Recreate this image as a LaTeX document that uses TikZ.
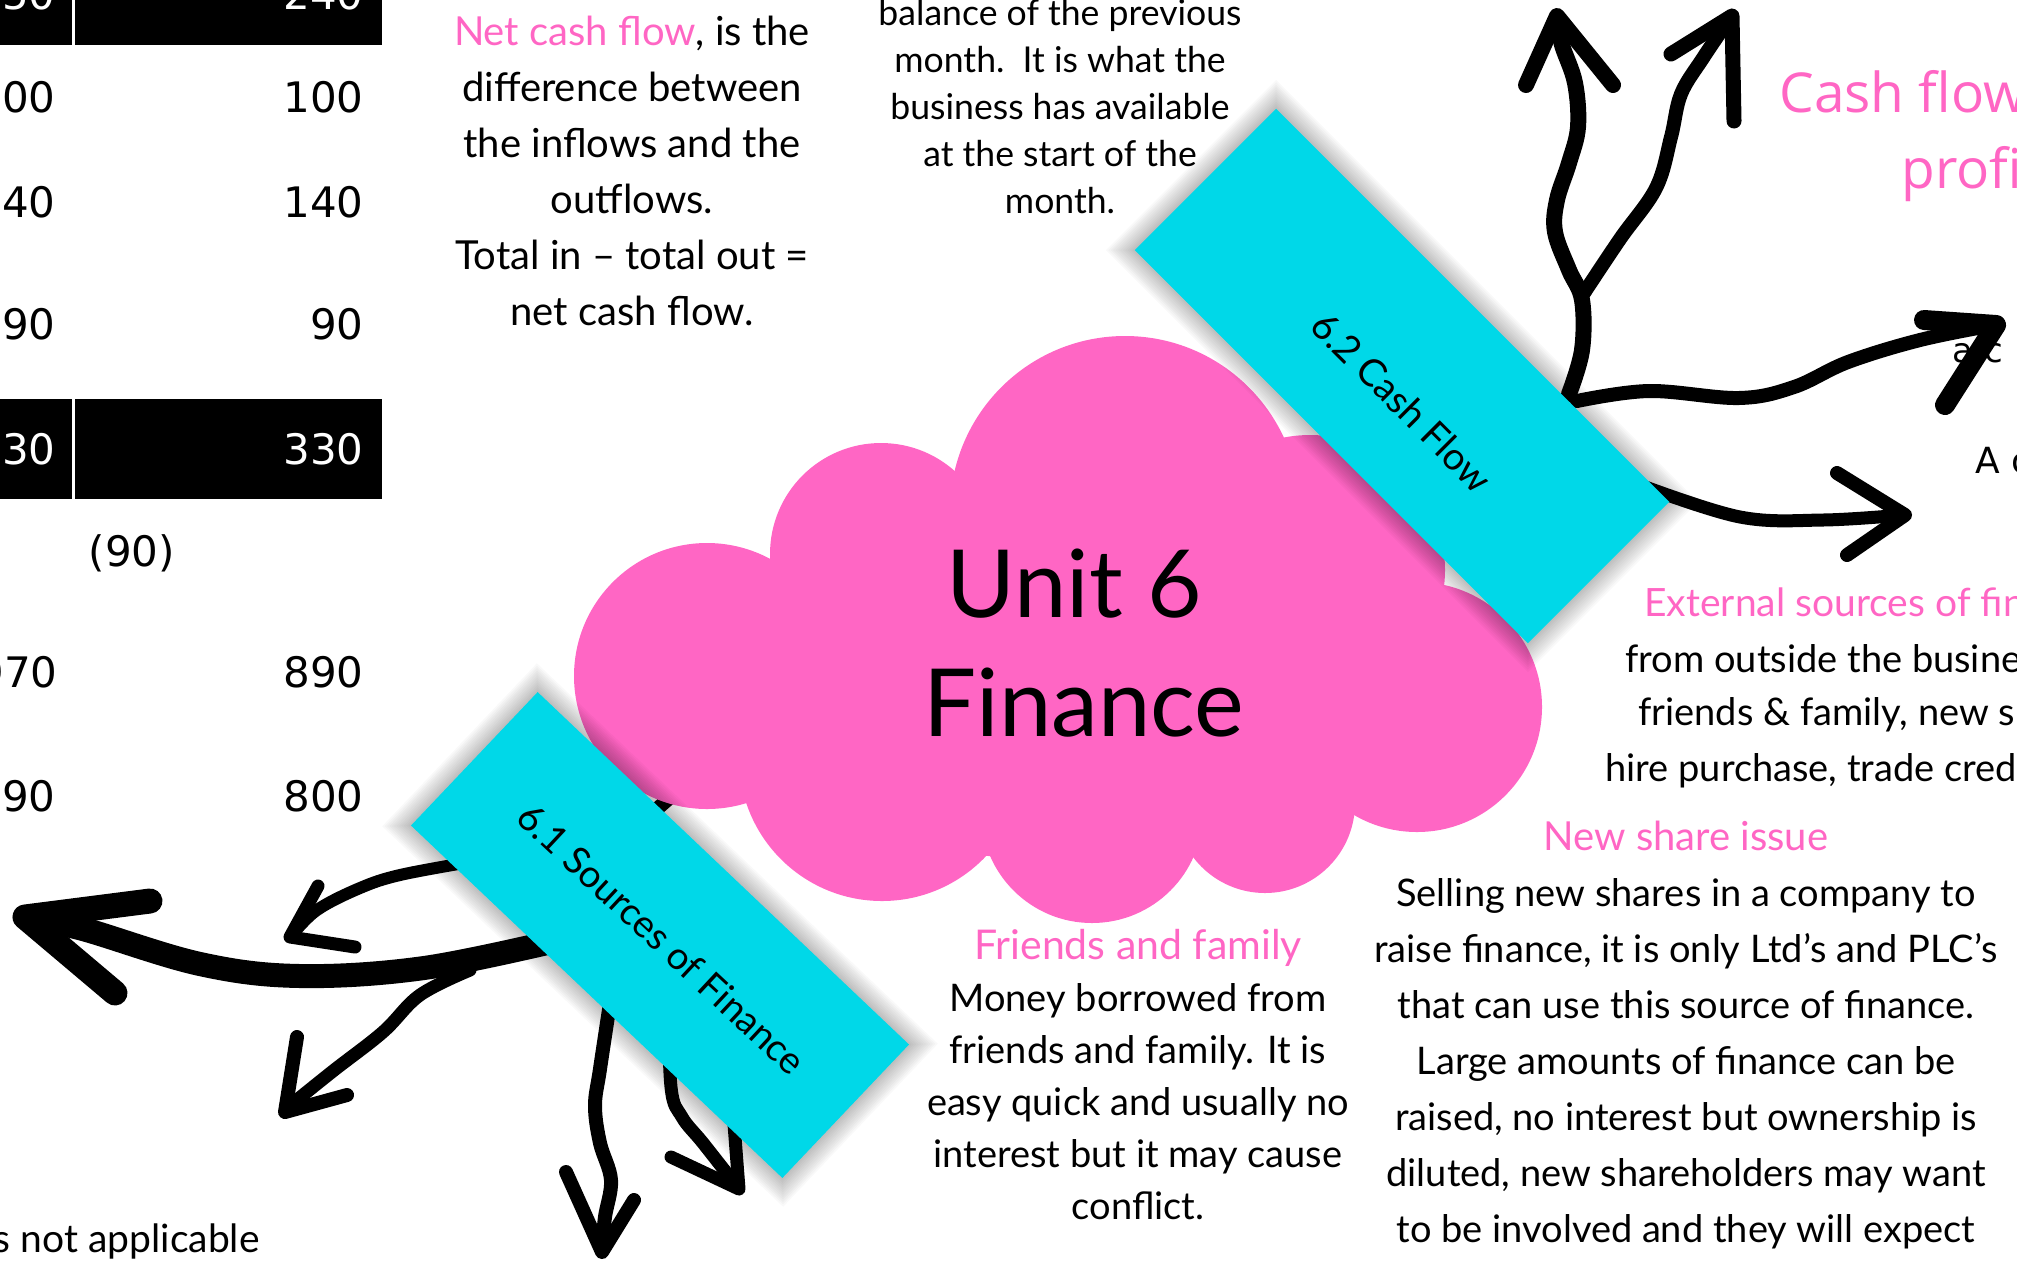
\documentclass[tikz,border=0pt]{standalone}
\usepackage{fontspec}
\setmainfont{Lato}
\newfontfamily\numfont{DejaVu Sans}
\newfontfamily\headfont{Open Sans}
\definecolor{cloudpink}{HTML}{FF66C4}
\definecolor{tabcyan}{HTML}{00D8E8}
\begin{document}
\begin{tikzpicture}[x=0.5pt,y=-0.5pt,
  ink/.style={draw=black, line cap=round, line join=round, line width=#1},
  ink/.default=7pt,
  body/.style={align=center, inner sep=0pt, font=\fontsize{#1}{28pt}\selectfont},
  body/.default=18pt,
  num/.style={anchor=base east, inner sep=0pt, font=\numfont\fontsize{21}{25}\selectfont},
  tabbox/.style={fill=tabcyan, inner sep=0pt},
  tablabel/.style={inner sep=0pt, font=\fontsize{#1}{20}\selectfont},
]
\useasboundingbox (0,0) rectangle (2017,1265);
\clip (0,0) rectangle (2017,1265);

% ---------- cash flow table (left edge) ----------
\fill[black] (0,0) rectangle (382,45);
\fill[black] (0,399) rectangle (382,499);
\fill[white] (72,0) rectangle (75,45);
\fill[white] (72,399) rectangle (75,499);
\node[num, text=white] (r1b) at (364,9) {240};
\node[num, text=white] (r1a) at (56,9) {250};
\node[num] (r2b) at (364,112) {100};
\node[num] (r2a) at (56,112) {100};
\node[num] (r3b) at (364,217) {140};
\node[num] (r3a) at (56,217) {140};
\node[num] (r4b) at (364,339) {90};
\node[num] (r4a) at (56,339) {90};
\node[num, text=white] (r5b) at (364,464) {330};
\node[num, text=white] (r5a) at (56,464) {330};
\node[inner sep=0pt, font=\numfont\fontsize{21}{25}\selectfont] (net) at (132,553) {(90)};
\node[num] (r7b) at (364,687) {890};
\node[num] (r7a) at (58,687) {970};
\node[num] (r8b) at (364,811) {800};
\node[num] (r8a) at (56,811) {890};
\node[anchor=base east, inner sep=0pt, font=\fontsize{19.5}{22}\selectfont] (napp) at (260,1252) {is not applicable};

% ---------- right edge headings ----------
\node[anchor=base west, inner sep=0pt, text=cloudpink, font=\headfont\fontsize{27.5}{30}\selectfont] (cfa) at (1779,112) {Cash flow};
\node[anchor=base west, inner sep=0pt, text=cloudpink, font=\headfont\fontsize{27.5}{30}\selectfont] (cfb) at (1901,188) {profit};
\node[anchor=base west, inner sep=0pt, font=\numfont\fontsize{17}{20}\selectfont] (ac1) at (1952,362) {a c};
\node[anchor=base west, inner sep=0pt, font=\numfont\fontsize{18}{20}\selectfont] (ac2) at (1975,473) {A c};

% ---------- hand drawn arrows of 6.2 ----------
\draw[ink=8pt] plot[smooth, tension=0.6] coordinates {(1569,394) (1582,350) (1582,300) (1569,270) (1555,232) (1557,200) (1569,163) (1578,127) (1575,83) (1562,45) (1557,20)};
\draw[ink=8pt] (1526,85) -- (1557,16) -- (1613,85);
\draw[ink=7pt] plot[smooth, tension=0.6] coordinates {(1584,293) (1620,239) (1656,188) (1671,137) (1681,94) (1703,58) (1730,18)};
\draw[ink=7.5pt] (1671,54) -- (1732,16) -- (1734,121);
\draw[ink=7pt] plot[smooth, tension=0.6] coordinates {(1577,401) (1649,391) (1739,398) (1794,387) (1848,362) (1920,340) (1994,325)};
\draw[ink=10pt] (1924,320) -- (1996,325) -- (1945,405);
\draw[ink=6.5pt] plot[smooth, tension=0.6] coordinates {(1640,485) (1740,517) (1823,520) (1903,515)};
\draw[ink=7pt] (1837,473) -- (1905,515) -- (1847,555);

% ---------- hand drawn arrows of 6.1 ----------
\draw[ink=12pt] plot[smooth, tension=0.6] coordinates {(560,940) (424,968) (300,976) (200,964) (83,929) (30,918)};
\draw[ink=12.5pt] (150,901) -- (25,917) -- (115,993);
\draw[ink=6pt] plot[smooth, tension=0.6] coordinates {(470,862) (400,875) (360,888) (317,910) (292,935)};
\draw[ink=6.5pt] (318,886) -- (290,937) -- (355,947);
\draw[ink=6.5pt] plot[smooth, tension=0.6] coordinates {(470,970) (420,995) (383,1032) (333,1071) (287,1108)};
\draw[ink=7pt] (297,1037) -- (285,1112) -- (347,1095);
\draw[ink=7pt] plot[smooth, tension=0.6] coordinates {(612,990) (600,1069) (595,1106) (600,1143) (611,1180) (605,1217) (602,1248)};
\draw[ink=7pt] (566,1172) -- (602,1252) -- (634,1200);
\draw[ink=6.5pt] plot[smooth, tension=0.6] coordinates {(668,990) (671,1087) (682,1117) (703,1143) (736,1185)};
\draw[ink=6.5pt] (671,1157) -- (739,1189) -- (734,1124);
\draw[ink=7pt] (610,850) -- (690,780);

% ---------- central cloud ----------
\begin{scope}[fill=cloudpink]
  \fill (707,676) circle[radius=133];
  \fill (881,554) circle[radius=111];
  \fill (1125,511) circle[radius=175];
  \fill (1310,570) circle[radius=135];
  \fill (1417,707) circle[radius=125];
  \fill (1265,803) circle[radius=90];
  \fill (1092,812) circle[radius=111];
  \fill (882,758) circle[radius=143];
  \fill (1060,690) ellipse[x radius=330, y radius=170];
\end{scope}
\node[inner sep=0pt, anchor=base, font=\fontsize{47}{50}\selectfont] (unit) at (1074,617) {Unit 6};
\node[inner sep=0pt, anchor=base, font=\fontsize{47}{50}\selectfont] (fin) at (1084,736) {Finance};

% ---------- topic tabs with soft shadows ----------
\begin{scope}[shift={(1402,376)}, rotate=-45]
  \foreach \k in {1,...,12}
    \fill[black, opacity=0.022] (-278-\k*1.7,-100-\k*1.7) rectangle (278+\k*1.7,100+\k*1.7);
\end{scope}
\node[tabbox, rotate=-45, minimum width=278pt, minimum height=100pt] (cashbox) at (1402,376) {};
\node[tablabel=19pt, rotate=-45] (cashlabel) at (1402,402) {6.2 Cash Flow};

\begin{scope}[shift={(660,935)}, rotate=-43.5]
  \foreach \k in {1,...,12}
    \fill[black, opacity=0.022] (-256-\k*1.7,-92-\k*1.7) rectangle (256+\k*1.7,92+\k*1.7);
\end{scope}
\node[tabbox, rotate=-43.5, minimum width=256pt, minimum height=92pt] (srcbox) at (660,935) {};
\node[tablabel=19pt, rotate=-43] (srclabel) at (662,939) {6.1 Sources of Finance};

% ---------- explanation texts ----------
\node[body, font=\fontsize{20}{28}\selectfont] (netcf) at (632,171) {{\color{cloudpink}Net cash flow}, is the\\difference between\\the inflows and the\\outflows.\\Total in -- total out =\\net cash flow.};
\node[body, font=\fontsize{17.8}{23.5}\selectfont] (openbal) at (1060,107) {balance of the previous\\month.\ \ It is what the\\business has available\\at the start of the\\month.};
\node[body, font=\fontsize{19}{26}\selectfont] (friends) at (1138,1075) {{\color{cloudpink}\fontsize{20.5}{26}\selectfont Friends and family}\\Money borrowed from\\friends and family. It is\\easy quick and usually no\\interest but it may cause\\conflict.};
\node[body, font=\fontsize{19}{28}\selectfont] (shares) at (1686,1035) {{\color{cloudpink}\fontsize{20}{28}\selectfont New share issue}\\Selling new shares in a company to\\raise finance, it is only Ltd’s and PLC’s\\that can use this source of finance.\\Large amounts of finance can be\\raised, no interest but ownership is\\diluted, new shareholders may want\\to be involved and they will expect};
\node[anchor=west, inner sep=0pt, text=cloudpink, font=\fontsize{19.5}{20}\selectfont] (ext1) at (1644,602) {External sources of finance};
\node[anchor=west, inner sep=0pt, font=\fontsize{19}{20}\selectfont] (ext2) at (1625,659) {from outside the business};
\node[anchor=west, inner sep=0pt, font=\fontsize{19}{20}\selectfont] (ext3) at (1638,715) {friends \& family, new shares};
\node[anchor=west, inner sep=0pt, font=\fontsize{19}{20}\selectfont] (ext4) at (1605,771) {hire purchase, trade credit};
\end{tikzpicture}
\end{document}
